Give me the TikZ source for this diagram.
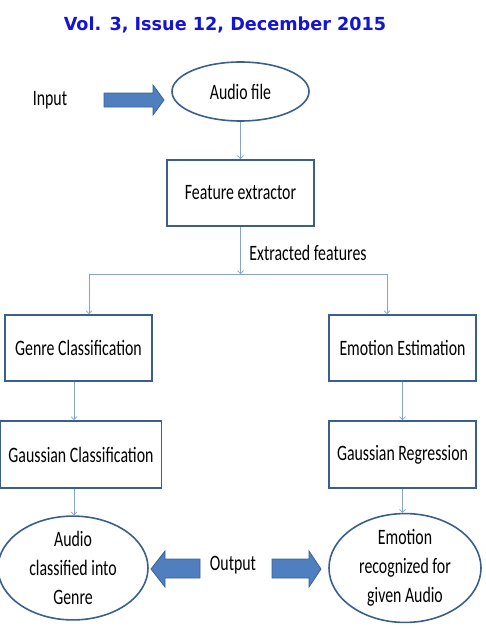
\documentclass[tikz,border=0pt]{standalone}
\usepackage{fontspec}
\setmainfont{Carlito}
\newfontfamily\narrowfont{Carlito}[FakeStretch=0.72]
\newfontfamily\hdrfont{DejaVu Sans}[FakeStretch=0.98]
\usetikzlibrary{arrows.meta,shapes.geometric}
\definecolor{boxline}{HTML}{3A5F8F}
\definecolor{connline}{HTML}{86A3D0}
\definecolor{blockfill}{HTML}{4F7FBF}
\definecolor{blockline}{HTML}{3A609A}
\definecolor{hdrblue}{HTML}{1414D8}
\tikzset{
  txt/.style={font=\narrowfont\fontsize{22}{29}\selectfont, text=black, inner sep=0pt, align=center},
  stepbox/.style={txt, draw=boxline, line width=1.6pt, rectangle},
  oval/.style={txt, draw=boxline, line width=1.6pt, ellipse, inner sep=0pt},
  conn/.style={draw=connline, line width=0.8pt},
  connarrow/.style={conn, -{Straight Barb[length=3pt,width=6pt,line width=0.7pt]}},
  block/.style={fill=blockfill, draw=blockline, line width=0.8pt, line join=miter}
}
\begin{document}
\begin{tikzpicture}[x=1pt,y=-1pt]
\useasboundingbox (0,0) rectangle (485,629);
\node[font=\hdrfont\bfseries\fontsize{18}{21}\selectfont, text=hdrblue, inner sep=0pt] (hdr) at (225,25) {Vol. 3, Issue 12, December 2015};

\node[txt] (inp) at (50,100) {Input};
\node[oval, minimum width=137pt, minimum height=59pt] (af) at (240.5,91.5) {Audio file};
\node[stepbox, minimum width=147pt, minimum height=66pt] (fe) at (240.5,193) {Feature extractor};
\node[txt, anchor=center] (ef) at (308,253) {Extracted features};
\node[stepbox, minimum width=147pt, minimum height=66pt] (gen) at (78.5,348) {Genre Classification};
\node[stepbox, minimum width=147pt, minimum height=66pt] (emo) at (402.5,348) {Emotion Estimation};
\node[stepbox, minimum width=161pt, minimum height=67pt] (gcl) at (81,454.5) {Gaussian Classification};
\node[stepbox, minimum width=147pt, minimum height=67pt] (gre) at (402.5,454.5) {Gaussian Regression};
\node[oval, minimum width=150pt, minimum height=84pt] (outl) at (73,568) {Audio\\classified into\\Genre};
\node[oval, minimum width=152pt, minimum height=84pt] (outr) at (405,568) {Emotion\\recognized for\\given Audio};
\node[txt] (outp) at (233,565) {Output};

% block arrows
\draw[block] (104,93) -- (153,93) -- (153,85) -- (164,100) -- (153,115) -- (153,107) -- (104,107) -- cycle;
\draw[block] (200,559) -- (165,559) -- (165,551) -- (151,569) -- (165,587) -- (165,578) -- (200,578) -- cycle;
\draw[block] (272,559) -- (309,559) -- (309,551) -- (321,569) -- (309,587) -- (309,578) -- (272,578) -- cycle;

% connectors
\draw[connarrow] (af.south) -- (fe.north);
\coordinate (split) at (240.5,274);
\coordinate (sl) at (89,274);
\coordinate (sr) at (387,274);
\draw[connarrow] (fe.south) -- (split);
\draw[conn] (sl) -- (sr);
\draw[connarrow] (sl) -- (sl |- gen.north);
\draw[connarrow] (sr) -- (sr |- emo.north);
\draw[connarrow] ([xshift=-4.5pt]gen.south) -- ([xshift=-4.5pt]gen.south |- gcl.north);
\draw[connarrow] (emo.south) -- (gre.north);
\coordinate (gclo) at ([xshift=-7pt]gcl.south);
\draw[connarrow] (gclo) -- (gclo |- outl.north);
\draw[connarrow] (gre.south) -- (gre.south |- outr.north);
\end{tikzpicture}
\end{document}
